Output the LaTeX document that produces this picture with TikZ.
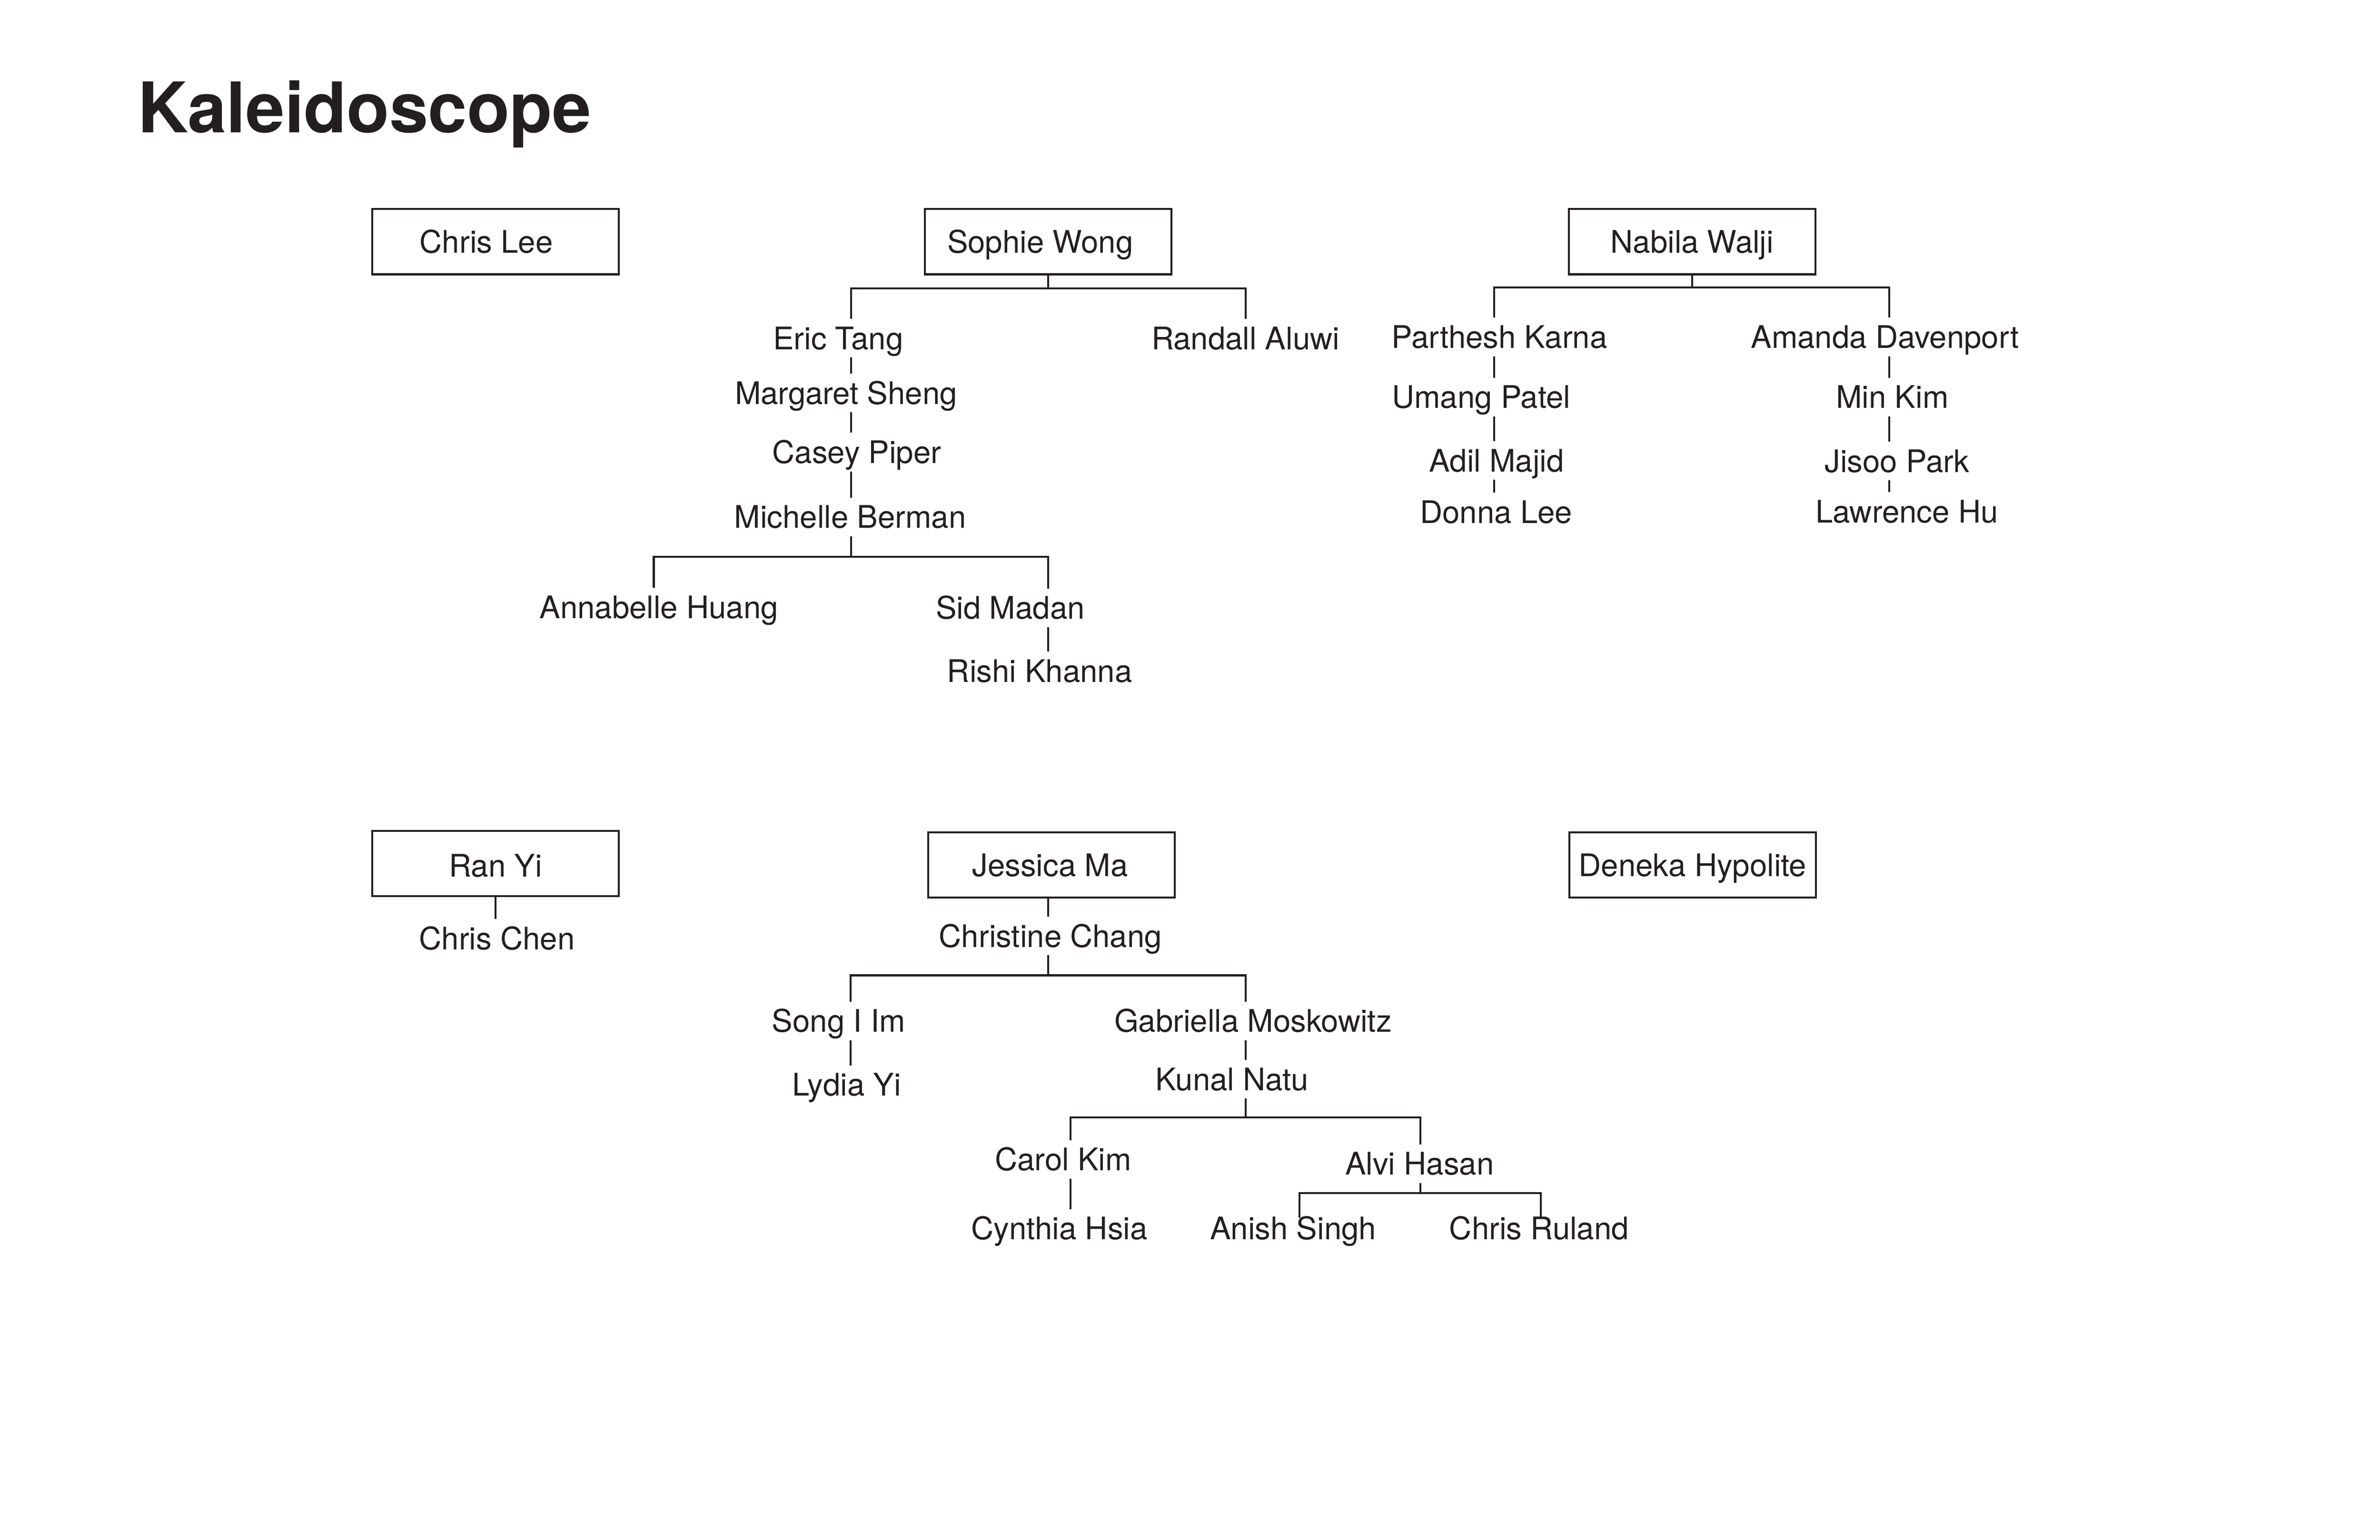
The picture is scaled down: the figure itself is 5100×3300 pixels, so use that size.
\documentclass[tikz,border=0pt]{standalone}
\usepackage{fontspec}
\setmainfont{TeX Gyre Heros}
\usepackage{tikz}
\usetikzlibrary{calc, positioning}
\definecolor{ink}{HTML}{231F20}
\tikzset{
    lead/.style={draw=ink, line width=1pt, minimum width=126.7pt, minimum height=33.6pt, inner sep=0pt,
        text height=11.5pt, text depth=0pt, font=\fontsize{16}{19}\selectfont, text=ink},
    member/.style={anchor=base, inner xsep=0pt, inner ysep=4pt, text height=11.5pt, text depth=0pt,
        font=\fontsize{16}{19}\selectfont, text=ink},
    link/.style={draw=ink, line width=1pt}
}
\begin{document}
\begin{tikzpicture}[x=0.24pt, y=-0.24pt]
                    \useasboundingbox (0,0) rectangle (5100,3300);
                    \node[anchor=base west, inner sep=0pt, text=ink, font=\fontsize{35.9}{40}\selectfont\bfseries] (title) at (294,284) {Kaleidoscope};
                    \node[lead] (chrislee) at (1062,518) {Chris Lee\hspace*{9.6pt}};
                    \node[lead] (sophie) at (2246,518) {Sophie Wong\hspace*{8.2pt}};
                    \node[lead] (nabila) at (3626,518) {Nabila Walji};
                    \node[lead, text height=13.4pt] (ranyi) at (1062,1851) {Ran Yi};
                    \node[lead] (jessica) at (2253,1854) {Jessica Ma\hspace*{1.4pt}};
                    \node[lead] (deneka) at (3627,1854) {Deneka Hypolite};
                    \node[member] (eric) at (1796,749) {Eric Tang};
                    \node[member] (randall) at (2669,749) {Randall Aluwi};
                    \node[member] (margaret) at (1813,866) {Margaret Sheng};
                    \node[member] (casey) at (1836,993) {Casey Piper};
                    \node[member] (michelle) at (1822,1132) {Michelle Berman};
                    \node[member] (annabelle) at (1412,1325) {Annabelle Huang};
                    \node[member] (sid) at (2165,1327) {Sid Madan};
                    \node[member] (rishi) at (2228,1462) {Rishi Khanna};
                    \node[member] (parthesh) at (3213,746) {Parthesh Karna};
                    \node[member] (amanda) at (4039,746) {Amanda Davenport};
                    \node[member] (umang) at (3174,875) {Umang Patel};
                    \node[member] (adil) at (3207,1011) {Adil Majid};
                    \node[member] (donna) at (3206,1121) {Donna Lee};
                    \node[member] (minkim) at (4055,875) {Min Kim};
                    \node[member] (jisoo) at (4065,1012) {Jisoo Park};
                    \node[member] (lawrence) at (4086,1120) {Lawrence Hu};
                    \node[member] (chrischen) at (1065,2035) {Chris Chen};
                    \node[member] (christine) at (2251,2030) {Christine Chang};
                    \node[member] (songim) at (1797,2212) {Song I Im};
                    \node[member] (gabriella) at (2685,2212) {Gabriella Moskowitz};
                    \node[member] (lydia) at (1814,2349) {Lydia Yi};
                    \node[member] (kunal) at (2640,2337) {Kunal Natu};
                    \node[member] (carol) at (2278,2509) {Carol Kim};
                    \node[member] (alvi) at (3042,2518) {Alvi Hasan};
                    \node[member] (cynthia) at (2270,2657) {Cynthia Hsia};
                    \node[member] (anish) at (2771,2657) {Anish Singh};
                    \node[member] (ruland) at (3298,2657) {Chris Ruland};
                    \draw[link] (sophie.south) -- ++(0,28) -| ($(eric.north)+(28,0)$);
                    \draw[link] (sophie.south) -- ++(0,28) -| (randall.north);
                    \draw[link] ($(eric.south)+(28,0)$) -- ($(margaret.north)+(11,0)$);
                    \draw[link] ($(margaret.south)+(11,0)$) -- ($(casey.north)+(-12,0)$);
                    \draw[link] ($(casey.south)+(-12,0)$) -- ($(michelle.north)+(2,0)$);
                    \draw[link] ($(michelle.south)+(2,0)$) -- ++(0,44) -| ($(annabelle.north)+(-11,0)$);
                    \draw[link] ($(michelle.south)+(2,0)$) -- ++(0,44) -| ($(sid.north)+(81,0)$);
                    \draw[link] ($(sid.south)+(81,0)$) -- ($(rishi.north)+(18,0)$);
                    \draw[link] (nabila.south) -- ++(0,26) -| ($(parthesh.north)+(-11,0)$);
                    \draw[link] (nabila.south) -- ++(0,26) -| ($(amanda.north)+(9,0)$);
                    \draw[link] ($(parthesh.south)+(-11,0)$) -- ($(umang.north)+(28,0)$);
                    \draw[link] ($(umang.south)+(28,0)$) -- ($(adil.north)+(-5,0)$);
                    \draw[link] ($(adil.south)+(-5,0)$) -- ($(donna.north)+(-4,0)$);
                    \draw[link] ($(amanda.south)+(9,0)$) -- ($(minkim.north)+(-7,0)$);
                    \draw[link] ($(minkim.south)+(-7,0)$) -- ($(jisoo.north)+(-17,0)$);
                    \draw[link] ($(jisoo.south)+(-17,0)$) -- ($(lawrence.north)+(-38,0)$);
                    \draw[link] (ranyi.south) -- (ranyi.south |- chrischen.north);
                    \draw[link] ($(jessica.south)+(-7,0)$) -- ($(christine.north)+(-5,0)$);
                    \draw[link] ($(christine.south)+(-5,0)$) -- ++(0,43) -| ($(songim.north)+(26,0)$);
                    \draw[link] ($(christine.south)+(-5,0)$) -- ++(0,43) -| ($(gabriella.north)+(-16,0)$);
                    \draw[link] ($(songim.south)+(26,0)$) -- ($(lydia.north)+(9,0)$);
                    \draw[link] ($(gabriella.south)+(-16,0)$) -- ($(kunal.north)+(29,0)$);
                    \draw[link] ($(kunal.south)+(29,0)$) -- ++(0,40) -| ($(carol.north)+(16,0)$);
                    \draw[link] ($(kunal.south)+(29,0)$) -- ++(0,40) -| ($(alvi.north)+(2,0)$);
                    \draw[link] ($(carol.south)+(16,0)$) -- ($(cynthia.north)+(24,0)$);
                    \draw[link] ($(alvi.south)+(2,0)$) -- ++(0,22) -| ($(anish.north)+(14,19)$);
                    \draw[link] ($(alvi.south)+(2,0)$) -- ++(0,22) -| ($(ruland.north)+(4,19)$);
                \end{tikzpicture}
\end{document}
